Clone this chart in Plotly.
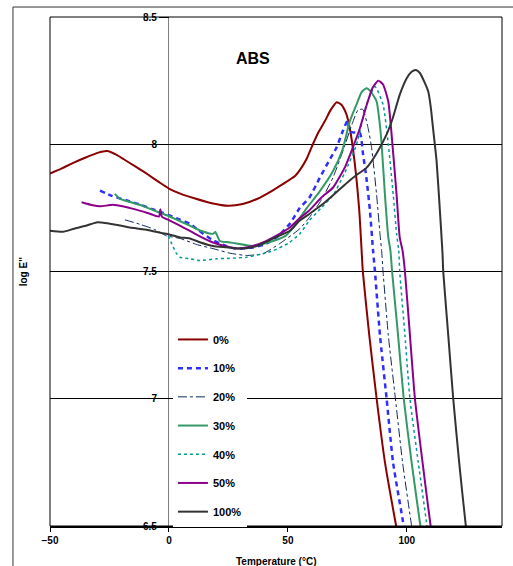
import plotly.graph_objects as go

# ---- data ----
T0 = [-50, -45, -40, -35, -30, -26, -22, -19, -14, -9, -4, 0, 5, 11, 18, 25, 31, 37, 43, 48, 53, 55.5, 58, 60.5, 63, 65.5, 68, 70.5, 72.5, 74.5, 76, 78, 80, 81, 81.5, 84.2, 87.3, 90.8, 95.5, 96.5]
E0 = [7.885, 7.905, 7.928, 7.948, 7.966, 7.973, 7.958, 7.941, 7.912, 7.882, 7.85, 7.826, 7.805, 7.787, 7.768, 7.758, 7.765, 7.785, 7.815, 7.844, 7.875, 7.905, 7.945, 8.0, 8.05, 8.09, 8.135, 8.165, 8.155, 8.12, 8.064, 7.934, 7.74, 7.58, 7.5, 7.25, 7.0, 6.75, 6.5, 6.45]

T10 = [-29, -24, -18, -12, -6, -2.5, 3, 8.8, 12, 18, 24, 28, 34, 40, 46, 51, 55, 59, 63.4, 67, 70.4, 73, 75.1, 76, 78, 80.3, 81.6, 83, 84.5, 85.8, 86.6, 88.7, 91.5, 94.2, 98.7, 99.5]
E10 = [7.818, 7.797, 7.78, 7.762, 7.742, 7.73, 7.71, 7.688, 7.665, 7.625, 7.60, 7.59, 7.593, 7.605, 7.64, 7.69, 7.75, 7.79, 7.868, 7.93, 7.986, 8.05, 8.093, 8.05, 8.046, 8.044, 7.96, 7.868, 7.738, 7.582, 7.5, 7.25, 7.0, 6.75, 6.5, 6.45]

T20 = [-18.5, -12, -6, -1, 4.6, 12, 18.5, 25.6, 32.6, 39.5, 46.6, 55, 59, 64, 69, 73, 77, 79.5, 81.5, 83.7, 85.2, 87.3, 88.7, 89.4, 90, 92.2, 95.2, 98.2, 102, 102.8]
E20 = [7.703, 7.685, 7.665, 7.64, 7.63, 7.605, 7.59, 7.572, 7.563, 7.57, 7.61, 7.668, 7.712, 7.78, 7.87, 7.97, 8.08, 8.135, 8.137, 8.064, 7.986, 7.80, 7.648, 7.582, 7.5, 7.25, 7.0, 6.75, 6.5, 6.45]

T30 = [-22.7, -20.6, -17, -11, -5, -2.5, 3, 8.8, 14, 18.5, 19.5, 21.4, 25, 28.4, 35.3, 43.8, 49, 52, 55, 58, 63, 69, 73, 76, 79, 81, 83, 85, 87.3, 88.5, 89.4, 90.8, 92.2, 93.1, 93.8, 96.3, 98.7, 102, 105.7, 106.5]
E30 = [7.805, 7.785, 7.775, 7.758, 7.735, 7.727, 7.705, 7.68, 7.658, 7.648, 7.655, 7.62, 7.615, 7.61, 7.60, 7.62, 7.64, 7.67, 7.71, 7.75, 7.81, 7.895, 7.98, 8.09, 8.16, 8.205, 8.22, 8.205, 8.168, 8.09, 8.0, 7.80, 7.634, 7.582, 7.5, 7.25, 7.0, 6.75, 6.5, 6.45]

T40 = [-0.3, 3.2, 4.6, 8.8, 13, 20, 25.6, 32.6, 39.5, 43.8, 50, 55, 59, 64, 69, 74, 78.9, 83, 86.6, 90, 92.2, 94.3, 95.7, 96.6, 97, 99.2, 101.3, 104.8, 108.5, 109.3]
E40 = [7.64, 7.57, 7.556, 7.55, 7.543, 7.55, 7.552, 7.556, 7.57, 7.582, 7.61, 7.648, 7.70, 7.75, 7.80, 7.89, 8.0, 8.156, 8.227, 8.156, 8.0, 7.80, 7.648, 7.582, 7.5, 7.25, 7.0, 6.75, 6.5, 6.45]

T50 = [-36.7, -32, -29, -23.5, -19, -15, -9, -4.2, -3.6, -3.0, 0.4, 4.6, 8.8, 11.6, 18.5, 25.6, 28.4, 33, 39.5, 45, 50.8, 55, 59, 64, 69, 74, 77, 80.3, 83, 85.5, 88, 90, 92.2, 94.3, 95.7, 97, 98.2, 99.2, 101.3, 103.4, 106.6, 110, 110.8]
E50 = [7.772, 7.76, 7.756, 7.762, 7.755, 7.746, 7.73, 7.716, 7.745, 7.716, 7.70, 7.68, 7.66, 7.645, 7.614, 7.595, 7.59, 7.595, 7.614, 7.64, 7.673, 7.71, 7.74, 7.79, 7.83, 7.91, 7.98, 8.064, 8.15, 8.22, 8.25, 8.235, 8.168, 7.96, 7.80, 7.634, 7.582, 7.5, 7.25, 7.0, 6.75, 6.5, 6.45]

T100 = [-50, -44.5, -40, -35, -30.4, -25, -20, -16.4, -10, -5, -1, 4.6, 8.8, 13, 18.5, 24, 30, 35, 39.5, 45, 50.8, 55, 59, 64, 69, 75, 79, 83, 87, 91.5, 94, 97, 100, 102, 103.8, 105.5, 107.6, 109, 110, 111, 112.5, 113.9, 115, 115.3, 117.4, 119.5, 122, 124.8, 125.6]
E100 = [7.66, 7.656, 7.668, 7.68, 7.693, 7.688, 7.68, 7.673, 7.665, 7.655, 7.648, 7.634, 7.63, 7.615, 7.60, 7.595, 7.59, 7.595, 7.61, 7.635, 7.66, 7.70, 7.726, 7.76, 7.80, 7.85, 7.88, 7.907, 7.96, 8.039, 8.10, 8.194, 8.26, 8.285, 8.292, 8.28, 8.24, 8.207, 8.15, 8.064, 7.934, 7.738, 7.57, 7.5, 7.25, 7.0, 6.75, 6.5, 6.45]

series_names = ["0%", "10%", "20%", "30%", "40%", "50%", "100%"]
x_ticks = [-50, 0, 50, 100]
y_ticks = [6.5, 7, 7.5, 8, 8.5]
y_ticktext = ["6.5", "7", "7.5", "8", "8.5"]

FONT = "Arial, Liberation Sans, sans-serif"

styles = [
    dict(color="#8B0000", width=2, dash="solid"),
    dict(color="#2E2EFF", width=2.5, dash="5px,4px"),
    dict(color="#0A2A5E", width=1, dash="dashdot"),
    dict(color="#339966", width=2, dash="solid"),
    dict(color="#009999", width=1.5, dash="dot"),
    dict(color="#8B008B", width=2, dash="solid"),
    dict(color="#333333", width=2, dash="solid"),
]
data = [(T0, E0), (T10, E10), (T20, E20), (T30, E30), (T40, E40), (T50, E50), (T100, E100)]

fig = go.Figure()
for name, (tx, ey), st in zip(series_names, data, styles):
    fig.add_trace(go.Scatter(
        x=tx, y=ey, mode="lines", name=name, legendgroup=name,
        line=dict(color=st["color"], width=st["width"], dash=st["dash"], shape="spline", smoothing=0.5),
    ))

x0_paper = (0 - (-50)) / (140 - (-50))

fig.update_layout(
    width=513, height=566,
    margin=dict(l=50, r=11, t=15, b=40),
    paper_bgcolor="white", plot_bgcolor="white",
    font=dict(family=FONT, size=10, color="black"),
    showlegend=True,
    legend=dict(
        x=0.272, y=0.395, xanchor="left", yanchor="top",
        bgcolor="white", borderwidth=0,
        font=dict(family=FONT, size=11, color="black", weight="bold"),
        tracegroupgap=9.7, itemwidth=30, traceorder="grouped",
    ),
    xaxis=dict(
        range=[-50, 140], tickvals=x_ticks, ticks="outside", ticklen=4, tickcolor="black",
        showline=True, linecolor="black", linewidth=2, showgrid=False,
        zeroline=True, zerolinecolor="#808080", zerolinewidth=1,
        tickfont=dict(family=FONT, size=10, color="black", weight="bold"),
    ),
    yaxis=dict(
        range=[6.5, 8.5], tickvals=y_ticks, ticktext=y_ticktext,
        anchor="free", position=x0_paper, showline=False, zeroline=False,
        showgrid=True, gridcolor="black", gridwidth=1,
        ticks="outside", ticklen=10, tickcolor="black",
        tickfont=dict(family=FONT, size=10, color="black", weight="bold"),
    ),
    shapes=[
        dict(type="rect", xref="paper", yref="paper", x0=0, x1=1, y0=0, y1=1,
             line=dict(color="black", width=1), fillcolor="rgba(0,0,0,0)", layer="above"),
        dict(type="rect", xref="paper", yref="paper", x0=-0.0819, x1=1.3, y0=-0.3, y1=1.0196,
             line=dict(color="#333333", width=1), fillcolor="rgba(0,0,0,0)", layer="above"),
    ],
    annotations=[
        dict(text="ABS", xref="paper", yref="paper", x=0.449, y=0.918,
             xanchor="center", yanchor="middle", showarrow=False,
             font=dict(family=FONT, size=16, color="black", weight="bold")),
        dict(text="log E''", xref="paper", yref="paper", x=-0.058, y=0.5,
             xanchor="center", yanchor="middle", showarrow=False,
             textangle=-90, font=dict(family=FONT, size=10, color="black", weight="bold")),
        dict(text="Temperature (°C)", xref="paper", yref="paper", x=0.5, y=-0.069,
             xanchor="center", yanchor="middle", showarrow=False,
             font=dict(family=FONT, size=10, color="black", weight="bold")),
    ],
)

fig.write_html(
    "out.html",
    config={"displayModeBar": False},
    post_script="document.body.style.margin='0';document.body.style.overflow='hidden';",
)
